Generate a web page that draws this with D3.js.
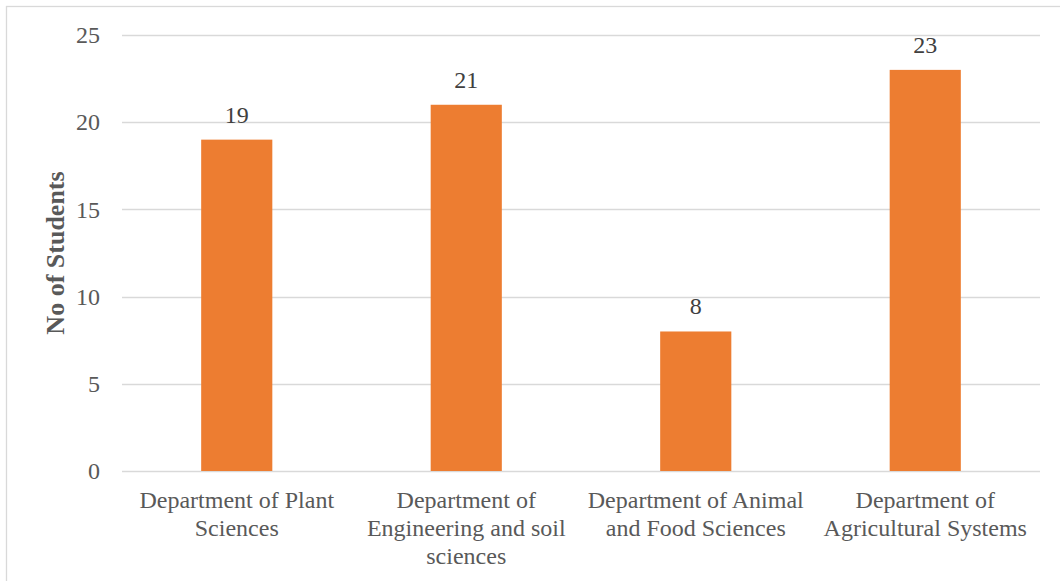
<!DOCTYPE html>
<html lang="en">
<head>
<meta charset="UTF-8">
<title>No of Students by Department</title>
<script src="https://cdn.jsdelivr.net/npm/d3@7/dist/d3.min.js"></script>
<style>
  body { margin: 0; background: #fff; }
  text { font-family: "Liberation Serif", "DejaVu Serif", serif; }
</style>
</head>
<body>
<svg id="chart" width="1060" height="581"></svg>
<script>
// data
var categories = [
    "Department of Plant Sciences",
    "Department of Engineering and soil sciences",
    "Department of Animal and Food Sciences",
    "Department of Agricultural Systems"
];
var students = [19, 21, 8, 23];
var yTicks = [0, 5, 10, 15, 20, 25];

var width = 1060, height = 581;
var margin = {top: 35, right: 20, bottom: 110, left: 122};
var serif = "'Liberation Serif', 'DejaVu Serif', serif";
var fontSize = 24;

var svg = d3.select("#chart");

// chart border
svg.append("rect")
    .attr("x", 6.5).attr("y", 6.5)
    .attr("width", 1100).attr("height", 700)
    .attr("fill", "none")
    .attr("stroke", "#d9d9d9")
    .attr("stroke-width", 1.3);

var x = d3.scaleBand()
    .domain(categories)
    .range([margin.left, width - margin.right])
    .padding(0);

var y = d3.scaleLinear()
    .domain([0, 25])
    .range([height - margin.bottom, margin.top]);

var barW = x.bandwidth() * 0.31;

// gridlines
svg.append("g")
    .selectAll("line")
    .data(yTicks)
    .enter().append("line")
    .attr("x1", margin.left)
    .attr("x2", width - margin.right)
    .attr("y1", function (d) { return Math.round(y(d)) + 0.5; })
    .attr("y2", function (d) { return Math.round(y(d)) + 0.5; })
    .attr("stroke", "#d9d9d9")
    .attr("stroke-width", 1.3);

// y axis labels
var yAxis = d3.axisLeft(y).tickValues(yTicks).tickSize(0).tickPadding(22);
var yg = svg.append("g")
    .attr("transform", "translate(" + margin.left + ",0)")
    .call(yAxis);
yg.select(".domain").remove();
yg.selectAll("text")
    .attr("font-family", serif)
    .attr("font-size", fontSize)
    .attr("fill", "#595959");

// bars
svg.append("g")
    .selectAll("rect")
    .data(students)
    .enter().append("rect")
    .attr("x", function (d, i) { return x(categories[i]) + (x.bandwidth() - barW) / 2; })
    .attr("y", function (d) { return y(d); })
    .attr("width", barW)
    .attr("height", function (d) { return y(0) - y(d); })
    .attr("fill", "#ed7d31");

// data labels
svg.append("g")
    .selectAll("text")
    .data(students)
    .enter().append("text")
    .attr("x", function (d, i) { return x(categories[i]) + x.bandwidth() / 2; })
    .attr("y", function (d) { return y(d) - 17; })
    .attr("text-anchor", "middle")
    .attr("font-family", serif)
    .attr("font-size", fontSize)
    .attr("fill", "#404040")
    .text(function (d) { return d; });

// category labels, wrapped to band width
var xg = svg.append("g");
categories.forEach(function (c) {
    var cx = x(c) + x.bandwidth() / 2;
    var t = xg.append("text")
        .attr("x", cx)
        .attr("y", y(0) + 37)
        .attr("text-anchor", "middle")
        .attr("font-family", serif)
        .attr("font-size", fontSize)
        .attr("fill", "#595959");
    var words = c.split(" ");
    var line = [];
    var ts = t.append("tspan").attr("x", cx).attr("dy", 0);
    words.forEach(function (w) {
        line.push(w);
        ts.text(line.join(" "));
        if (ts.node().getComputedTextLength() > x.bandwidth() - 8 && line.length > 1) {
            line.pop();
            ts.text(line.join(" "));
            line = [w];
            ts = t.append("tspan")
                .attr("x", cx)
                .attr("dy", 27.8)
                .text(w);
        }
    });
});

// y title
svg.append("text")
    .attr("transform", "translate(64," + ((y(0) + y(25)) / 2) + ") rotate(-90)")
    .attr("text-anchor", "middle")
    .attr("font-family", serif)
    .attr("font-size", 26)
    .attr("font-weight", "bold")
    .attr("fill", "#595959")
    .text("No of Students");
</script>
</body>
</html>
